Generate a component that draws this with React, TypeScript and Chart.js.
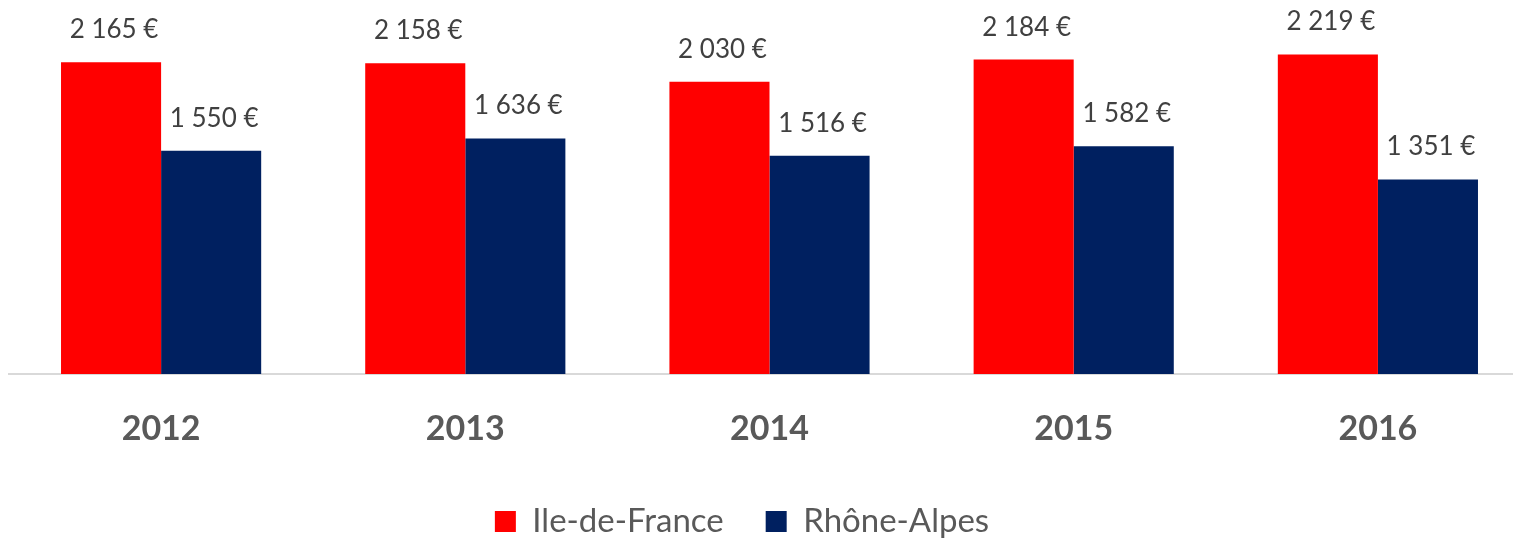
import React, { useEffect, useRef } from "react";
import { Chart, registerables } from "chart.js";

Chart.register(...registerables);

const categories = ["2012", "2013", "2014", "2015", "2016"];
const ileDeFrance = [2165, 2158, 2030, 2184, 2219];
const rhoneAlpes = [1550, 1636, 1516, 1582, 1351];
const seriesNames = ["Ile-de-France", "Rhône-Alpes"];
const seriesColors = ["#FF0000", "#002060"];

const FONT = "Lato, 'Noto Sans', sans-serif";

function fmt(v: number): string {
  const th = Math.floor(v / 1000);
  const rest = String(v % 1000).padStart(3, "0");
  return `${th} ${rest} €`;
}

const valueLabels = {
  id: "valueLabels",
  afterDatasetsDraw(chart: any) {
    const ctx = chart.ctx;
    ctx.save();
    ctx.font = `26px ${FONT}`;
    ctx.fillStyle = "#404040";
    ctx.textAlign = "center";
    ctx.textBaseline = "alphabetic";
    chart.data.datasets.forEach((ds: any, di: number) => {
      chart.getDatasetMeta(di).data.forEach((el: any, i: number) => {
        ctx.fillText(fmt(ds.data[i]), el.x + 3, el.y - 24);
      });
    });
    ctx.restore();
  },
};

export default function App() {
  const ref = useRef<HTMLCanvasElement | null>(null);

  useEffect(() => {
    if (!ref.current) return;
    const chart = new Chart(ref.current, {
      type: "bar",
      data: {
        labels: categories,
        datasets: [
          {
            label: seriesNames[0],
            data: ileDeFrance,
            backgroundColor: seriesColors[0],
            borderWidth: 0,
          },
          {
            label: seriesNames[1],
            data: rhoneAlpes,
            backgroundColor: seriesColors[1],
            borderWidth: 0,
          },
        ],
      },
      options: {
        responsive: false,
        animation: false,
        devicePixelRatio: 1,
        layout: { padding: { top: 14, left: -46, right: 0, bottom: 0 } },
        datasets: {
          bar: { categoryPercentage: 0.658, barPercentage: 1 },
        },
        scales: {
          x: {
            type: "category",
            offset: true,
            grid: { display: false, drawTicks: false },
            border: { display: true, color: "#D9D9D9", width: 2 },
            ticks: {
              color: "#595959",
              font: { family: FONT, size: 34, weight: "bold" },
              padding: 35,
              autoSkip: false,
              maxRotation: 0,
            },
            afterFit: (scale: any) => {
              scale.height = 89;
            },
          },
          y: {
            display: true,
            min: 0,
            max: 2500,
            grid: { display: false, drawTicks: false },
            border: { display: false },
            ticks: { display: false },
            afterFit: (scale: any) => {
              scale.width = 55;
            },
          },
        },
        plugins: {
          legend: {
            display: true,
            position: "bottom",
            labels: {
              color: "#595959",
              font: { family: FONT, size: 33 },
              boxWidth: 21,
              boxHeight: 21,
              padding: 42,
            },
          },
          tooltip: { enabled: false },
          title: { display: false },
        },
      },
      plugins: [valueLabels],
    } as any);
    return () => chart.destroy();
  }, []);

  return (
    <div
      style={{
        position: "absolute",
        left: 0,
        top: 0,
        width: 1513,
        height: 542,
        overflow: "hidden",
        background: "#FFFFFF",
      }}
    >
      <canvas ref={ref} width={1530} height={548} style={{ display: "block" }} />
    </div>
  );
}
